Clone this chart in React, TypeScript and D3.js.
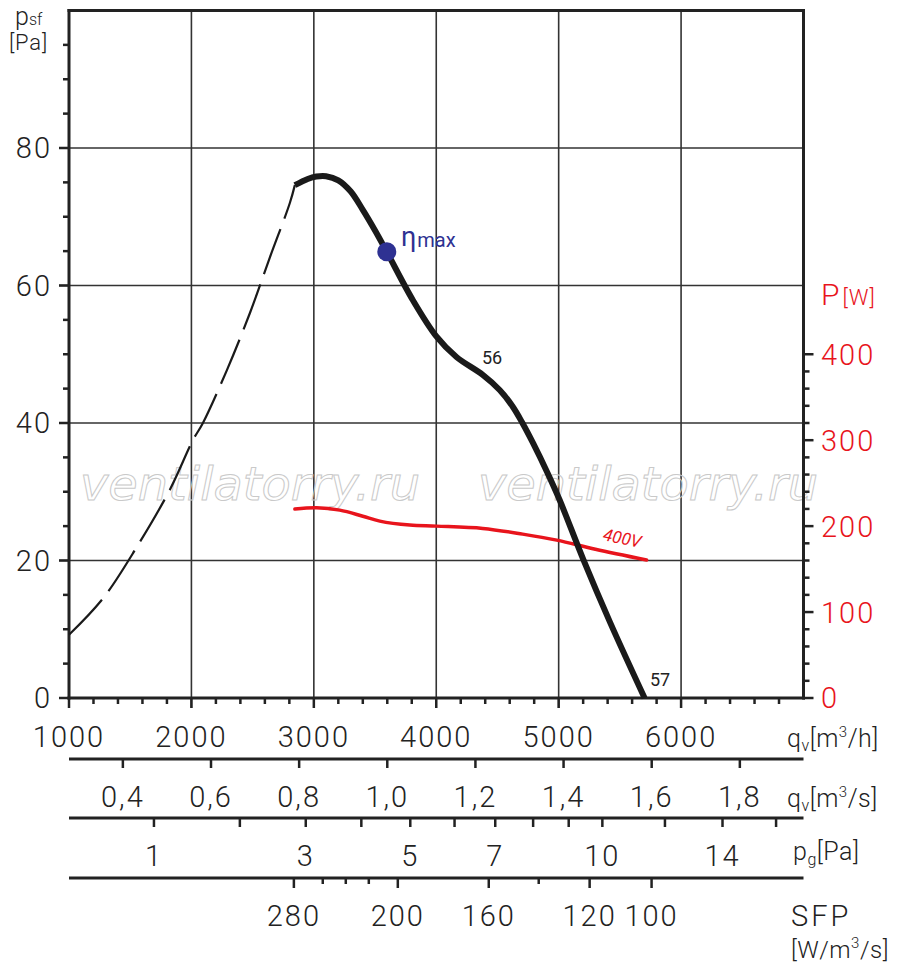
import React from "react";
import * as d3 from "d3";

// ---------- data ----------
const flowTicksMajor = [1000, 2000, 3000, 4000, 5000, 6000];
const psfTicksMajor = [0, 20, 40, 60, 80];
const powerTicksMajor = [0, 100, 200, 300, 400];
const qsTicks = [0.4, 0.6, 0.8, 1.0, 1.2, 1.4, 1.6, 1.8];
const pgTicks = [1, 2, 3, 4, 5, 6, 7, 8, 9, 10, 12, 14, 16];
const pgLabels = [1, 3, 5, 7, 10, 14];
const pgRefFlow = 1694; // m3/h at which dynamic pressure = 1 Pa
const sfpValues = [280, 260, 240, 220, 200, 160, 140, 120, 100];
const sfpFlows = [2837, 3073, 3261, 3449, 3686, 4429, 4837, 5253, 5759];
const sfpLabels = [280, 200, 160, 120, 100];

// static pressure curve (unstable region, dashed)
const dashedFlow = [1000, 1278, 1555, 1824, 2012, 2094, 2290, 2478, 2641, 2804, 2845];
const dashedPsf = [9.2, 14.5, 22, 30.3, 37.5, 40, 47.7, 56, 64.1, 72, 74.6];
// static pressure curve (solid)
const solidFlow = [2845, 2950, 3020, 3100, 3200, 3300, 3400, 3500, 3596, 3808, 4001, 4165, 4380, 4518, 4624, 4704, 4790, 4910, 5008, 5200, 5420, 5702];
const solidPsf = [74.6, 75.5, 75.85, 75.9, 75.3, 73.7, 71.0, 68.0, 64.9, 57.9, 52.6, 49.6, 47.0, 44.8, 42.4, 40, 37.1, 32.7, 28.8, 20.2, 11.0, 0];
// power curve 400V
const powerFlow = [2845, 3022, 3212, 3400, 3539, 3784, 4002, 4380, 4706, 4984, 5300, 5718];
const powerW = [219.8, 221.3, 218.6, 211.5, 205.8, 201.2, 200, 197.3, 190.7, 183.7, 173, 160.5];
const etaMax = { flow: 3596, psf: 64.9 };

const FONT = "Roboto, 'DejaVu Sans', sans-serif";

export default function App() {
  const x = d3.scaleLinear().domain([1000, 7000]).range([69, 803.5]);
  const y = d3.scaleLinear().domain([0, 100]).range([698, 10.5]);
  const yP = d3.scaleLinear().domain([0, 800]).range([698, 10.5]);

  const lineP = d3
    .line<[number, number]>()
    .x((d) => x(d[0]))
    .y((d) => y(d[1]))
    .curve(d3.curveCatmullRom.alpha(0.5));
  const lineW = d3
    .line<[number, number]>()
    .x((d) => x(d[0]))
    .y((d) => yP(d[1]))
    .curve(d3.curveCatmullRom.alpha(0.5));

  const dashedPts = dashedFlow.map((f, i) => [f, dashedPsf[i]] as [number, number]);
  const solidPts = solidFlow.map((f, i) => [f, solidPsf[i]] as [number, number]);
  const powerPts = powerFlow.map((f, i) => [f, powerW[i]] as [number, number]);

  const L = 69, R = 803.5, T = 10.5, B = 698;
  const minorFlow = d3.range(1000, 7000, 200).filter((v) => v % 1000 !== 0);
  const minorPsf = d3.range(0, 100, 5).filter((v) => v % 20 !== 0);
  const minorPow = d3.range(0, 401, 20).filter((v) => v % 100 !== 0);

  const ax1 = 759, ax2 = 818, ax3 = 878;
  const tickFont = { fontFamily: FONT, fontSize: 29, fontWeight: 300, letterSpacing: 2 } as const;

  return (
    <svg width={900} height={967} style={{ position: "absolute", left: 0, top: 0, background: "#fff" }}>
      {/* grid */}
      <g stroke="#333" strokeWidth={1.6}>
        {[2000, 3000, 4000, 5000, 6000].map((v) => (
          <line key={"gv" + v} x1={x(v)} x2={x(v)} y1={T} y2={B + 10} />
        ))}
        {[20, 40, 60, 80].map((v) => (
          <line key={"gh" + v} x1={L - 10} x2={R} y1={y(v)} y2={y(v)} />
        ))}
      </g>

      {/* watermark */}
      <g fontFamily="'DejaVu Sans', Verdana, sans-serif" fontStyle="italic" fontSize={47} fill="none" stroke="#c9c9c9" strokeWidth={1}>
        <text x={80} y={500} textLength={340} lengthAdjust="spacingAndGlyphs">ventilatorry.ru</text>
        <text x={478} y={500} textLength={340} lengthAdjust="spacingAndGlyphs">ventilatorry.ru</text>
      </g>

      {/* frame */}
      <g stroke="#222" strokeWidth={3} fill="none" strokeLinecap="square">
        <line x1={L} x2={R} y1={T} y2={T} />
        <line x1={L} x2={L} y1={T} y2={B} />
        <line x1={L} x2={R} y1={B} y2={B} />
        <line x1={R} x2={R} y1={T} y2={B} />
      </g>

      {/* axis ticks */}
      <g stroke="#222" strokeWidth={2.5}>
        {minorPsf.map((v) => (
          <line key={"lm" + v} x1={L - 6} x2={L} y1={y(v)} y2={y(v)} />
        ))}
        {psfTicksMajor.map((v) => (
          <line key={"lM" + v} x1={L - 10} x2={L} y1={y(v)} y2={y(v)} />
        ))}
        {minorFlow.map((v) => (
          <line key={"bm" + v} x1={x(v)} x2={x(v)} y1={B} y2={B + 6} />
        ))}
        {flowTicksMajor.map((v) => (
          <line key={"bM" + v} x1={x(v)} x2={x(v)} y1={B} y2={B + 10} />
        ))}
        {minorPow.map((v) => (
          <line key={"rm" + v} x1={R} x2={R + 6} y1={yP(v)} y2={yP(v)} />
        ))}
        {powerTicksMajor.map((v) => (
          <line key={"rM" + v} x1={R} x2={R + 10} y1={yP(v)} y2={yP(v)} />
        ))}
      </g>

      {/* left labels */}
      <g {...tickFont} fill="#222" textAnchor="end">
        {psfTicksMajor.map((v) => (
          <text key={"ll" + v} x={52} y={y(v)} dy="0.36em">{v}</text>
        ))}
      </g>
      <g fontFamily={FONT} fill="#222" fontWeight={300}>
        <text x={15} y={25} fontSize={25}>p<tspan fontSize={16}>sf</tspan></text>
        <text x={9} y={50} fontSize={22} letterSpacing={0.8}>[Pa]</text>
      </g>

      {/* right labels */}
      <g {...tickFont} fill="#e8141c" textAnchor="start">
        {powerTicksMajor.map((v) => (
          <text key={"rl" + v} x={821} y={yP(v)} dy="0.36em">{v}</text>
        ))}
      </g>
      <text x={821} y={305} fontFamily={FONT} fontWeight={300} fill="#e8141c" fontSize={30}>
        P<tspan fontSize={22} dx={3} letterSpacing={1}>[W]</tspan>
      </text>

      {/* x labels m3/h */}
      <g {...tickFont} fill="#222" textAnchor="middle">
        {flowTicksMajor.map((v) => (
          <text key={"xl" + v} x={x(v)} y={747}>{v}</text>
        ))}
      </g>

      {/* secondary axes */}
      <g stroke="#222" strokeWidth={3}>
        <line x1={L} x2={R} y1={ax1} y2={ax1} />
        <line x1={L} x2={R} y1={ax2} y2={ax2} />
        <line x1={L} x2={R} y1={ax3} y2={ax3} />
      </g>
      <g stroke="#222" strokeWidth={2.5}>
        {qsTicks.map((v) => (
          <line key={"qs" + v} x1={x(v * 3600)} x2={x(v * 3600)} y1={ax1} y2={ax1 + 9} />
        ))}
        {pgTicks.map((v) => (
          <line key={"pg" + v} x1={x(pgRefFlow * Math.sqrt(v))} x2={x(pgRefFlow * Math.sqrt(v))} y1={ax2} y2={ax2 + 9} />
        ))}
        {sfpValues.map((v, i) => (
          <line key={"sf" + v} x1={x(sfpFlows[i])} x2={x(sfpFlows[i])} y1={ax3}
            y2={ax3 + (sfpLabels.includes(v) ? 10 : 6)} />
        ))}
      </g>
      <g {...tickFont} fill="#222" textAnchor="middle">
        {qsTicks.map((v) => (
          <text key={"qsl" + v} x={x(v * 3600)} y={807}>{v.toFixed(1).replace(".", ",")}</text>
        ))}
        {pgLabels.map((v) => (
          <text key={"pgl" + v} x={x(pgRefFlow * Math.sqrt(v))} y={866}>{v}</text>
        ))}
        {sfpValues.map((v, i) =>
          sfpLabels.includes(v) ? (
            <text key={"sfl" + v} x={x(sfpFlows[i])} y={926}>{v}</text>
          ) : null
        )}
      </g>

      {/* axis names */}
      <g fontFamily={FONT} fontWeight={300} fill="#222" fontSize={25} letterSpacing={0.5}>
        <text x={787} y={747}>q<tspan fontSize={16} dy={4}>v</tspan><tspan dy={-4}>[m</tspan><tspan fontSize={15} dy={-10}>3</tspan><tspan dy={10}>/h]</tspan></text>
        <text x={787} y={807}>q<tspan fontSize={16} dy={4}>v</tspan><tspan dy={-4}>[m</tspan><tspan fontSize={15} dy={-10}>3</tspan><tspan dy={10}>/s]</tspan></text>
        <text x={793} y={860}>p<tspan fontSize={16} dy={5}>g</tspan><tspan dy={-5}>[Pa]</tspan></text>
        <text x={791} y={926} fontSize={29} letterSpacing={3}>SFP</text>
        <text x={791} y={958} fontSize={24}>[W/m<tspan fontSize={15} dy={-10}>3</tspan><tspan dy={10}>/s]</tspan></text>
      </g>

      {/* curves */}
      <path d={lineP(dashedPts) || ""} fill="none" stroke="#1a1a1a" strokeWidth={2.2} strokeDasharray="48 11" />
      <path d={lineW(powerPts) || ""} fill="none" stroke="#e8141c" strokeWidth={3.5} strokeLinecap="round" />
      <path d={lineP(solidPts) || ""} fill="none" stroke="#1a1a1a" strokeWidth={6} strokeLinecap="butt" />
      <circle cx={x(etaMax.flow)} cy={y(etaMax.psf)} r={9.5} fill="#2e3192" />

      {/* annotations */}
      <text x={401} y={246} fontFamily={FONT} fill="#2e3192" fontSize={27}>η<tspan fontSize={20} dx={1} dy={1}>max</tspan></text>
      <text x={492} y={364} fontFamily={FONT} fill="#222" fontSize={18} textAnchor="middle">56</text>
      <text x={660} y={686} fontFamily={FONT} fill="#222" fontSize={18} textAnchor="middle">57</text>
      <text x={0} y={0} fontFamily={FONT} fontStyle="italic" fill="#e8141c" fontSize={17} textAnchor="middle"
        transform="translate(621,544) rotate(12)">400V</text>
    </svg>
  );
}
